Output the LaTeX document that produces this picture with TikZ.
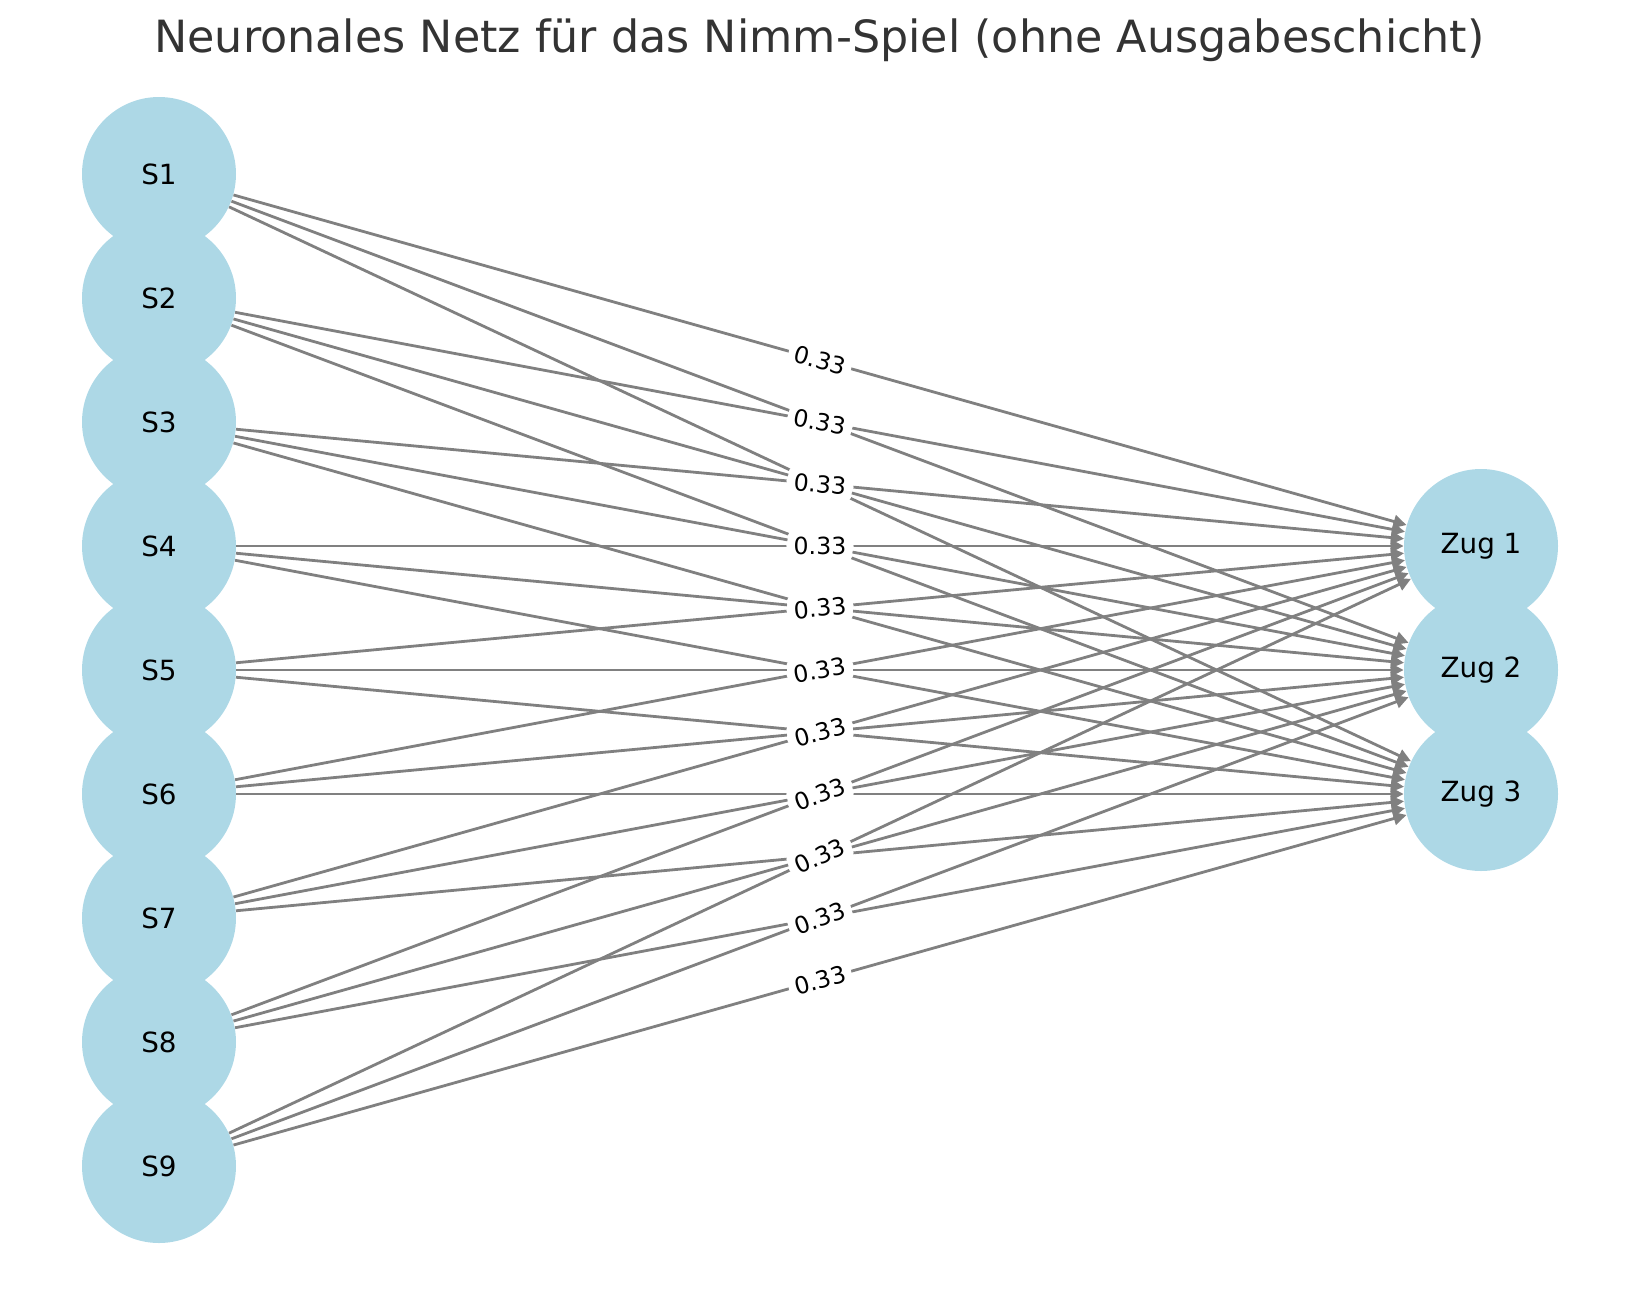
\documentclass[tikz,border=0pt]{standalone}
\usepackage{fontspec}
\setmainfont{DejaVu Sans}
\usetikzlibrary{arrows.meta}
\definecolor{nodeblue}{HTML}{ADD8E6}
\definecolor{edgegray}{HTML}{808080}
\definecolor{titlegray}{HTML}{333333}
\begin{document}
\begin{tikzpicture}[x=0.5pt,y=-0.5pt,
  neuron/.style={circle, fill=nodeblue, minimum size=77pt, inner sep=0pt, font=\fontsize{13.9}{16}\selectfont},
  conn/.style={draw=edgegray, line width=1.4pt, -{Triangle[length=6.5pt,width=6.5pt]}},
  wlabel/.style={fill=white, rounded corners=3pt, inner sep=3pt, font=\fontsize{11.8}{14}\selectfont, sloped, midway},
  titlestyle/.style={font=\fontsize{22.2}{26}\selectfont, text=titlegray, anchor=base, inner sep=0pt}]
\useasboundingbox (0,0) rectangle (1639,1290);
\node[titlestyle] (title) at (819.5,53) {Neuronales Netz für das Nimm-Spiel (ohne Ausgabeschicht)};
\foreach \i in {1,...,9} \node[neuron] (S\i) at (159,{174+(\i-1)*124}) {S\i};
\foreach \j in {1,2,3} \node[neuron] (Z\j) at (1481,{546+(\j-1)*124}) {Zug \j};
\foreach \i in {1,...,9} \foreach \j in {1,2,3} \draw[conn] (S\i) -- (Z\j);
\foreach \i in {1,...,9} \foreach \j in {1,2,3} \path (S\i) -- (Z\j) node[wlabel] {0.33};
\end{tikzpicture}
\end{document}
